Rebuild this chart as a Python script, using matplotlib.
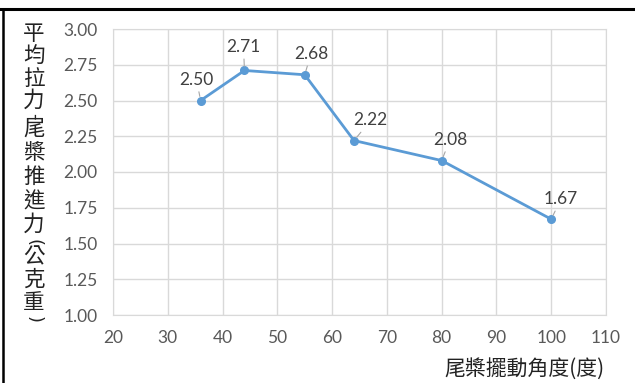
import matplotlib.pyplot as plt
from matplotlib.lines import Line2D

# 尾槳擺動角度 vs 平均拉力
angles = [36, 44, 55, 64, 80, 100]
thrust = [2.50, 2.71, 2.68, 2.22, 2.08, 1.67]
labels = ["2.50", "2.71", "2.68", "2.22", "2.08", "1.67"]
# data label offsets (points), as dragged in the original sheet
label_dx = [-3, -0.7, 4.5, 12, 6, 7]
label_dy = [15, 17, 15, 14.5, 15, 14.5]

x_ticks = [20, 30, 40, 50, 60, 70, 80, 90, 100, 110]
y_ticks = [1.00, 1.25, 1.50, 1.75, 2.00, 2.25, 2.50, 2.75, 3.00]
y_title = "平均拉力-尾槳推進力(公克重)"
x_title = "尾槳擺動角度(度)"

cjk = ['Noto Sans CJK TC', 'DejaVu Sans']
num_font = 'Lato'
grid_c = '#D9D9D9'
line_c = '#5B9BD5'
text_c = '#595959'

W, H = 635, 383
fig = plt.figure(figsize=(W / 100, H / 100), dpi=100)
ax = fig.add_axes([113 / W, 1 - 315 / H, (606 - 113) / W, (315 - 29) / H])

ax.plot(angles, thrust, color=line_c, lw=2, marker='o', markersize=5.5, zorder=3)

for x, y, s, dx, dy in zip(angles, thrust, labels, label_dx, label_dy):
    ax.annotate(s, (x, y), xytext=(dx, dy), textcoords='offset points',
                ha='center', va='center', fontsize=12.5, color='#404040',
                family=num_font,
                arrowprops=dict(arrowstyle='-', color='#A6A6A6', lw=0.8,
                                shrinkA=1, shrinkB=3))

ax.set_xlim(20, 110)
ax.set_ylim(1.0, 3.0)
ax.set_xticks(x_ticks)
ax.set_yticks(y_ticks)
ax.set_yticklabels([f"{v:.2f}" for v in y_ticks])
ax.grid(True, color=grid_c, lw=1)
ax.set_axisbelow(True)
for sp in ax.spines.values():
    sp.set_color(grid_c)
ax.tick_params(length=0, labelsize=12.5, labelcolor=text_c)
ax.tick_params(axis='y', pad=11)
ax.tick_params(axis='x', pad=11)
for lab in ax.get_xticklabels() + ax.get_yticklabels():
    lab.set_family(num_font)

# vertical y title, one character per row (pixel centres from the top)
row_y = [34, 57, 79, 101, 116, 129, 153, 177, 202, 225, 242, 257, 280, 303, 319]
for ch, yp in zip(y_title, row_y):
    if ch in "()-":
        # punctuation turned for vertical writing
        fig.text(34 / W, 1 - yp / H, ch, family='DejaVu Sans', fontsize=13,
                 color='#222222', ha='center', va='center', rotation=-90)
    else:
        fig.text(34 / W, 1 - yp / H, ch, family=cjk, fontsize=15.5,
                 color='#222222', ha='center', va='center')

fig.text(605 / W, 1 - 369 / H, x_title, family=cjk, fontsize=15,
         color='#222222', ha='right', va='center')

# frame edges of the pasted picture
fig.add_artist(Line2D([0, 1], [1 - 8.5 / H, 1 - 8.5 / H], color='black', lw=2.2,
                      transform=fig.transFigure))
fig.add_artist(Line2D([3 / W, 3 / W], [0, 1 - 8.5 / H], color='black', lw=1.8,
                      transform=fig.transFigure))

fig.savefig('out.png', dpi=100, facecolor='white')
